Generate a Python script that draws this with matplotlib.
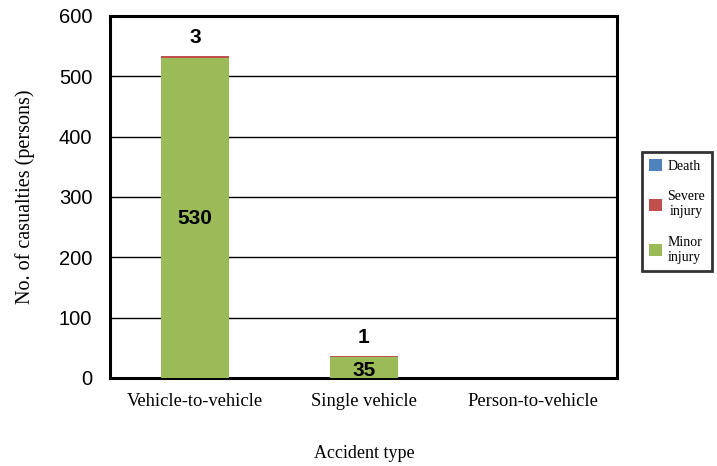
import matplotlib
matplotlib.use("Agg")
import matplotlib.pyplot as plt
import numpy as np

categories = ["Vehicle-to-vehicle", "Single vehicle", "Person-to-vehicle"]
minor = [530, 35, 0]
severe = [3, 1, 0]
death = [0, 0, 0]

c_death = "#4F81BD"
c_severe = "#C0504D"
c_minor = "#9BBB59"

fig = plt.figure(figsize=(7.17, 4.66), dpi=100)
ax = fig.add_axes([0.154, 0.189, 0.707, 0.777])

x = np.arange(len(categories))
w = 0.4
b1 = ax.bar(x, minor, w, color=c_minor, label="Minor\ninjury", zorder=3)
b2 = ax.bar(x, severe, w, bottom=minor, color=c_severe, label="Severe\ninjury", zorder=3)
bottom2 = [m + s for m, s in zip(minor, severe)]
b3 = ax.bar(x, death, w, bottom=bottom2, color=c_death, label="Death", zorder=3)

ax.set_xlim(-0.5, 2.5)
ax.set_ylim(0, 600)
ax.set_yticks(range(0, 601, 100))
ax.yaxis.grid(True, color="black", linewidth=1.0, zorder=1)
ax.set_axisbelow(True)
for s in ax.spines.values():
    s.set_linewidth(2.2)
ax.tick_params(axis="both", length=0)
ax.tick_params(axis="y", pad=13)
ax.tick_params(axis="x", pad=11)
ax.set_xticks(x)
ax.set_xticklabels(categories, fontfamily="Liberation Serif", fontsize=13.3)
for lab in ax.get_yticklabels():
    lab.set_fontfamily("Liberation Sans")
    lab.set_fontsize(14.5)

ax.set_ylabel("No. of casualties (persons)", fontfamily="Liberation Serif", fontsize=14.5)
ax.yaxis.set_label_coords(-0.148, 0.5)
ax.set_xlabel("Accident type", fontfamily="Liberation Serif", fontsize=13, labelpad=25)

# annotations
for i in range(len(categories)):
    if minor[i] > 0:
        ypos = minor[i] / 2 if minor[i] > 100 else minor[i] * 0.37
        ax.text(x[i], ypos, str(minor[i]), ha="center", va="center",
                fontfamily="Liberation Sans", fontweight="bold", fontsize=15, zorder=5)
    if severe[i] > 0:
        ax.text(x[i], bottom2[i] + 31, str(severe[i]), ha="center", va="center",
                fontfamily="Liberation Sans", fontweight="bold", fontsize=15, zorder=5)

handles = [b3, b2, b1]
labels = ["Death", "Severe\ninjury", "Minor\ninjury"]
leg = fig.legend(handles, labels, loc="upper left", bbox_to_anchor=(0.895, 0.673),
                 prop={"family": "Liberation Serif", "size": 10},
                 frameon=True, fancybox=False, edgecolor="black",
                 handlelength=0.95, handleheight=0.95, labelspacing=1.25,
                 borderpad=0.5, handletextpad=0.4, borderaxespad=0)
leg.get_frame().set_linewidth(2)
for t in leg.get_texts():
    t.set_multialignment("center")

fig.savefig("out.png", dpi=100)
